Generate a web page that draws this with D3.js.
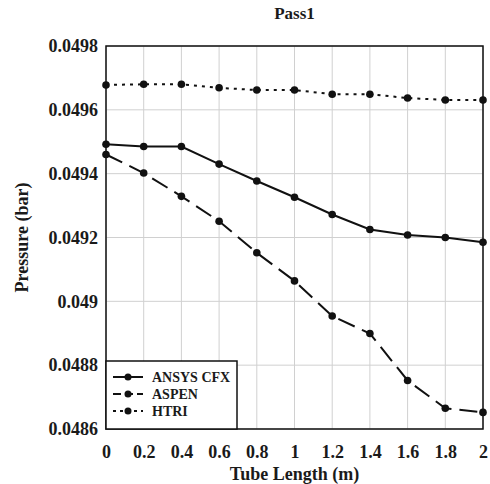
<!DOCTYPE html>
<html>
  <head>
    <meta http-equiv="Content-Type" content="text/html;charset=utf-8">
    <title>Pass1</title>
    <script type="text/javascript" src="https://d3js.org/d3.v7.min.js"></script>
    <style>
	    html, body {
		    margin: 0;
		    padding: 0;
		    background: #fff;
	    }
	    text {
		    font-family: "Liberation Serif", "Times New Roman", serif;
		    font-weight: bold;
		    fill: #1a1a1a;
	    }
	    .grid line {
		    stroke: #d0d0d0;
		    stroke-width: 1px;
	    }
	    .axis path, .axis line { display: none; }
	    path.series {
		    fill: none;
		    stroke: #111;
		    stroke-width: 2px;
	    }
    </style>
  </head>
  <body>
	<script type="text/javascript">

var tubeLength = [0, 0.2, 0.4, 0.6, 0.8, 1, 1.2, 1.4, 1.6, 1.8, 2];

var ansysCfx = [0.049492, 0.049485, 0.049485, 0.049430, 0.049377, 0.049326, 0.049272, 0.049225, 0.049208, 0.049200, 0.049185];
var aspen    = [0.049460, 0.049402, 0.049329, 0.049251, 0.049152, 0.049064, 0.048954, 0.048899, 0.048752, 0.048665, 0.048652];
var htri     = [0.049678, 0.049680, 0.049680, 0.049669, 0.049662, 0.049662, 0.049649, 0.049649, 0.049637, 0.049631, 0.049631];

var seriesNames = ["ANSYS CFX", "ASPEN", "HTRI"];
var seriesDash = ["none", "18,8", "3,5"];

var xTicks = [0, 0.2, 0.4, 0.6, 0.8, 1, 1.2, 1.4, 1.6, 1.8, 2];
var xTickLabels = ["0", "0.2", "0.4", "0.6", "0.8", "1", "1.2", "1.4", "1.6", "1.8", "2"];
var yTicks = [0.0486, 0.0488, 0.049, 0.0492, 0.0494, 0.0496, 0.0498];
var yTickLabels = ["0.0486", "0.0488", "0.049", "0.0492", "0.0494", "0.0496", "0.0498"];

var margin = {left: 106, right: 7, top: 46, bottom: 55};
var W = 490, H = 484;
var width = W - margin.left - margin.right;
var height = H - margin.top - margin.bottom;

var x = d3.scaleLinear().domain([0, 2]).range([0, width]);
var y = d3.scaleLinear().domain([0.0486, 0.0498]).range([height, 0]);

var svg = d3.select("body").append("svg").attr("width", W).attr("height", H);
var g = svg.append("g").attr("transform", "translate(" + margin.left + "," + margin.top + ")");

// grid
var grid = g.append("g").attr("class", "grid");
grid.selectAll("line.v").data(xTicks).enter().append("line")
	.attr("x1", d => x(d)).attr("x2", d => x(d))
	.attr("y1", 0).attr("y2", height);
grid.selectAll("line.h").data(yTicks).enter().append("line")
	.attr("x1", 0).attr("x2", width)
	.attr("y1", d => y(d)).attr("y2", d => y(d));

// axes (labels only)
var xAxis = d3.axisBottom(x).tickValues(xTicks).tickSize(0).tickPadding(16)
	.tickFormat((d, i) => xTickLabels[i]);
var yAxis = d3.axisLeft(y).tickValues(yTicks).tickSize(0).tickPadding(8)
	.tickFormat((d, i) => yTickLabels[i]);

g.append("g").attr("class", "axis x").attr("transform", "translate(0," + height + ")").call(xAxis)
	.selectAll("text").style("font-size", "18px");
g.append("g").attr("class", "axis y").call(yAxis)
	.selectAll("text").style("font-size", "18px");
g.selectAll(".axis").attr("font-family", null).attr("font-size", null);

// frame
g.append("rect").attr("x", 0).attr("y", 0).attr("width", width).attr("height", height)
	.attr("fill", "none").attr("stroke", "#111").attr("stroke-width", 1.5);

// series
var allSeries = [ansysCfx, aspen, htri];
var line = d3.line().x((d, i) => x(tubeLength[i])).y(d => y(d));

allSeries.forEach(function(vals, k) {
	g.append("path").attr("class", "series")
		.attr("stroke-dasharray", seriesDash[k])
		.attr("d", line(vals));
	g.selectAll("circle.s" + k).data(vals).enter().append("circle")
		.attr("class", "s" + k)
		.attr("cx", (d, i) => x(tubeLength[i]))
		.attr("cy", d => y(d))
		.attr("r", 3.8)
		.attr("fill", "#111");
});

// legend
var legend = g.append("g");
legend.append("rect").attr("x", 0).attr("y", height - 68).attr("width", 131).attr("height", 68)
	.attr("fill", "#fff").attr("stroke", "#111").attr("stroke-width", 1.5);
seriesNames.forEach(function(name, k) {
	var ly = height - 52 + k * 17;
	legend.append("line").attr("x1", 7).attr("x2", 37).attr("y1", ly).attr("y2", ly)
		.attr("stroke", "#111").attr("stroke-width", 2)
		.attr("stroke-dasharray", k === 0 ? "none" : (k === 1 ? "8,4" : "3,4"));
	legend.append("circle").attr("cx", 22).attr("cy", ly).attr("r", 3.5).attr("fill", "#111");
	legend.append("text").attr("x", 46).attr("y", ly + 5).style("font-size", "14px").text(name);
});

// title and axis titles
svg.append("text").attr("x", margin.left + width / 2).attr("y", 19)
	.attr("text-anchor", "middle").style("font-size", "17px").text("Pass1");
svg.append("text").attr("x", margin.left + width / 2).attr("y", 480)
	.attr("text-anchor", "middle").style("font-size", "18px").text("Tube Length (m)");
svg.append("text").attr("transform", "translate(28," + (margin.top + height / 2) + ") rotate(-90)")
	.attr("text-anchor", "middle").style("font-size", "18px").text("Pressure (bar)");

	</script>
  </body>
</html>
